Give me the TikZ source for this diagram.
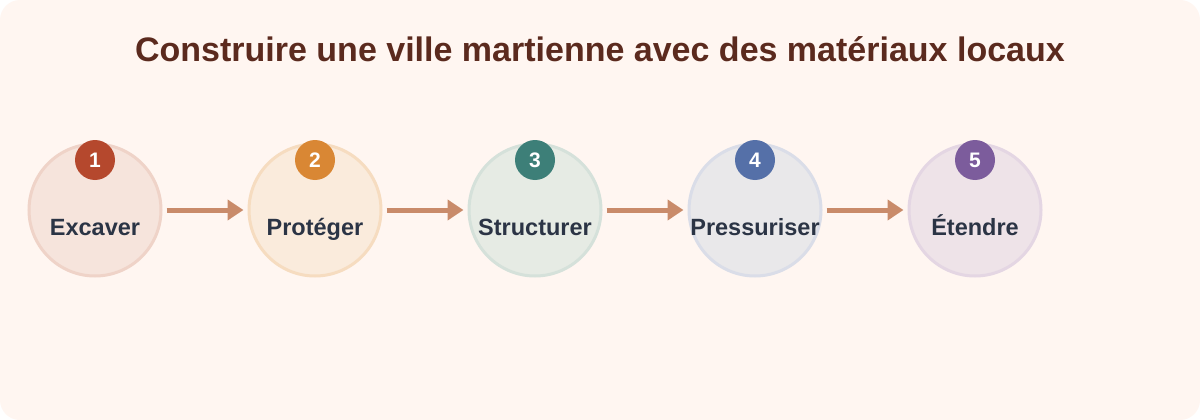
\documentclass[tikz,border=0pt]{standalone}
\usepackage{fontspec}
\setmainfont{Liberation Sans}
\usetikzlibrary{arrows.meta}
\definecolor{bgc}{HTML}{FFF6F1}
\definecolor{titlec}{HTML}{5B2A1E}
\definecolor{txtc}{HTML}{2B3445}
\definecolor{arrc}{HTML}{C98B6A}
\definecolor{bA}{HTML}{B5482D}\definecolor{fA}{HTML}{F6E4DC}\definecolor{dA}{HTML}{EFD3C8}
\definecolor{bB}{HTML}{D98734}\definecolor{fB}{HTML}{FAEBDC}\definecolor{dB}{HTML}{F6DCC0}
\definecolor{bC}{HTML}{3D7F78}\definecolor{fC}{HTML}{E6EBE4}\definecolor{dC}{HTML}{D5E1DA}
\definecolor{bD}{HTML}{5570A8}\definecolor{fD}{HTML}{E9E8EA}\definecolor{dD}{HTML}{DADDE8}
\definecolor{bE}{HTML}{7C5C9C}\definecolor{fE}{HTML}{EEE3E8}\definecolor{dE}{HTML}{E4D6E3}
\tikzset{
  stepcircle/.style={circle, minimum size=132pt, inner sep=0pt, line width=3pt},
  badge/.style={circle, minimum size=40pt, inner sep=0pt, fill=#1},
  badgenum/.style={anchor=base, inner sep=0pt, text=white, font=\bfseries\fontsize{21}{21}\selectfont},
  steplabel/.style={anchor=base, text=txtc, font=\bfseries\fontsize{23.5}{24}\selectfont, inner sep=0pt},
  flow/.style={draw=arrc, line width=5pt, -{Triangle[length=16pt,width=20pt]}},
}
\begin{document}
\begin{tikzpicture}[x=1pt,y=-1pt]
\useasboundingbox (0,0) rectangle (1200,420);
\fill[white] (0,0) rectangle (1200,420);
\fill[bgc, rounded corners=20pt] (0,0) rectangle (1200,420);
\node[anchor=base, inner sep=0pt, text=titlec, font=\bfseries\fontsize{34}{36}\selectfont] (title) at (600,62) {Construire une ville martienne avec des matériaux locaux};
\foreach \i/\x/\b/\f/\d/\t in {1/95/bA/fA/dA/Excaver, 2/315/bB/fB/dB/Protéger, 3/535/bC/fC/dC/Structurer, 4/755/bD/fD/dD/Pressuriser, 5/975/bE/fE/dE/Étendre}{
  \node[stepcircle, fill=\f, draw=\d] (c\i) at (\x,210) {};
  \node[steplabel] (l\i) at (\x,235) {\t};
  \node[badge=\b] (b\i) at (\x,160) {};
  \node[badgenum] (n\i) at (\x,167.5) {\i};
}
\foreach \a/\b in {1/2,2/3,3/4,4/5}{
  \coordinate (s\a) at ([xshift=4pt]c\a.east);
  \coordinate (e\a) at ([xshift=-4pt]c\b.west);
  \draw[flow] (s\a) -- (e\a);
}
\end{tikzpicture}
\end{document}
